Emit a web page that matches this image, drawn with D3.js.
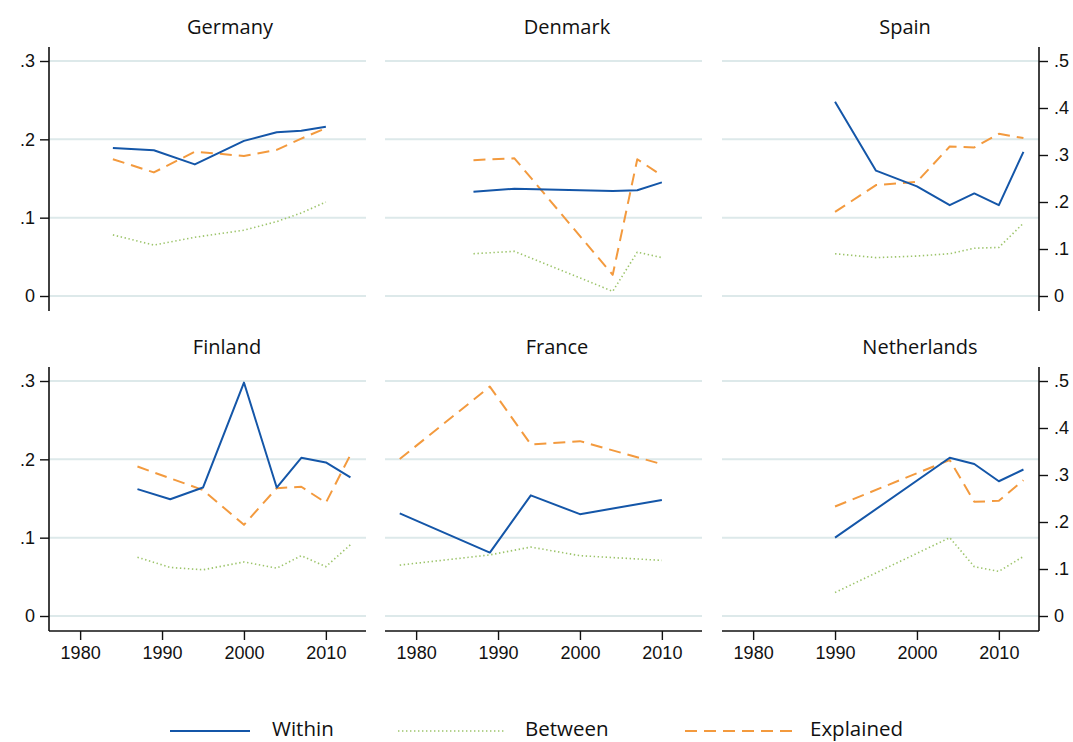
<!DOCTYPE html>
<html>
<head>
<meta charset="utf-8">
<script src="https://cdn.jsdelivr.net/npm/d3@7"></script>
<style>
  html, body { margin: 0; padding: 0; background: #fff; }
  svg { display: block; font-family: "Open Sans", "Noto Sans", sans-serif; }
</style>
</head>
<body>
<svg id="chart" width="1073" height="742"></svg>
<script>
// ---------- data ----------
const countries = ["Germany", "Denmark", "Spain", "Finland", "France", "Netherlands"];

const yearsGermany     = [1984, 1989, 1994, 2000, 2004, 2007, 2010];
const withinGermany    = [0.189, 0.186, 0.168, 0.198, 0.209, 0.211, 0.216];
const betweenGermany   = [0.078, 0.065, 0.075, 0.084, 0.095, 0.106, 0.120];
const explainedGermany = [0.291, 0.263, 0.307, 0.298, 0.311, 0.335, 0.357];

const yearsDenmark     = [1987, 1992, 2004, 2007, 2010];
const withinDenmark    = [0.133, 0.137, 0.134, 0.135, 0.145];
const betweenDenmark   = [0.054, 0.057, 0.006, 0.056, 0.049];
const explainedDenmark = [0.289, 0.293, 0.045, 0.291, 0.256];

const yearsSpain       = [1990, 1995, 2000, 2004, 2007, 2010, 2013];
const withinSpain      = [0.248, 0.160, 0.140, 0.116, 0.131, 0.116, 0.184];
const betweenSpain     = [0.054, 0.049, 0.051, 0.054, 0.061, 0.062, 0.093];
const explainedSpain   = [0.179, 0.236, 0.243, 0.318, 0.316, 0.345, 0.336];

const yearsFinland     = [1987, 1991, 1995, 2000, 2004, 2007, 2010, 2013];
const withinFinland    = [0.162, 0.149, 0.164, 0.298, 0.164, 0.202, 0.196, 0.177];
const betweenFinland   = [0.075, 0.062, 0.059, 0.069, 0.061, 0.077, 0.063, 0.091];
const explainedFinland = [0.318, 0.293, 0.268, 0.194, 0.272, 0.275, 0.241, 0.343];

const yearsFrance      = [1978, 1989, 1994, 2000, 2010];
const withinFrance     = [0.131, 0.081, 0.154, 0.130, 0.148];
const betweenFrance    = [0.065, 0.078, 0.088, 0.077, 0.071];
const explainedFrance  = [0.334, 0.488, 0.365, 0.372, 0.323];

const yearsNetherlands     = [1990, 2004, 2007, 2010, 2013];
const withinNetherlands    = [0.100, 0.202, 0.194, 0.172, 0.187];
const betweenNetherlands   = [0.030, 0.100, 0.063, 0.057, 0.076];
const explainedNetherlands = [0.233, 0.332, 0.243, 0.245, 0.289];

const leftTicks = [0, 0.1, 0.2, 0.3];
const leftTickLabels = ["0", ".1", ".2", ".3"];
const rightTicks = [0, 0.1, 0.2, 0.3, 0.4, 0.5];
const rightTickLabels = ["0", ".1", ".2", ".3", ".4", ".5"];
const xTicks = [1980, 1990, 2000, 2010];
const xTickLabels = ["1980", "1990", "2000", "2010"];

const seriesNames = ["Within", "Between", "Explained"];

const panelData = {
  Germany:     {years: yearsGermany, Within: withinGermany, Between: betweenGermany, Explained: explainedGermany},
  Denmark:     {years: yearsDenmark, Within: withinDenmark, Between: betweenDenmark, Explained: explainedDenmark},
  Spain:       {years: yearsSpain, Within: withinSpain, Between: betweenSpain, Explained: explainedSpain},
  Finland:     {years: yearsFinland, Within: withinFinland, Between: betweenFinland, Explained: explainedFinland},
  France:      {years: yearsFrance, Within: withinFrance, Between: betweenFrance, Explained: explainedFrance},
  Netherlands: {years: yearsNetherlands, Within: withinNetherlands, Between: betweenNetherlands, Explained: explainedNetherlands}
};

// ---------- layout & style ----------
const colX = [49, 385, 722];
const rowY = [47, 367];
const pw = 317, ph = 264;
const titleCx = [230, 567, 905, 227, 557, 920];

const style = {
  Within:    {color: "#1456a8", width: 2,   dash: null,      axis: "left"},
  Between:   {color: "#9cc46a", width: 1.6, dash: "1.4,2.6", axis: "left"},
  Explained: {color: "#f39a3e", width: 2,   dash: "12,7",    axis: "right"}
};
const gridColor = "#dde9ea";

const svg = d3.select("#chart");

const x = d3.scaleLinear().domain([1976.2, 2014.9]).range([0, pw]);
const yL = d3.scaleLinear().domain([0, 0.3]).range([249, 14]);
const yR = d3.scaleLinear().domain([0, 0.5]).range([249, 14]);

countries.forEach((c, i) => {
  const col = i % 3, row = Math.floor(i / 3);
  const g = svg.append("g").attr("transform", `translate(${colX[col]},${rowY[row]})`);

  // gridlines
  g.selectAll("line.grid").data(leftTicks).join("line")
    .attr("class", "grid")
    .attr("x1", 0).attr("x2", pw)
    .attr("y1", d => yL(d)).attr("y2", d => yL(d))
    .attr("stroke", gridColor).attr("stroke-width", 2);

  // title
  svg.append("text")
    .attr("x", titleCx[i]).attr("y", rowY[row] - 13)
    .attr("text-anchor", "middle")
    .attr("font-size", 20).attr("fill", "#111")
    .text(c);

  // left axis
  if (col === 0) {
    const ax = g.append("g").call(d3.axisLeft(yL).tickValues(leftTicks)
      .tickSize(9).tickPadding(5).tickFormat((d, k) => leftTickLabels[k]));
    ax.select(".domain").remove();
    ax.selectAll("text").attr("font-size", 18).attr("fill", "#111").attr("font-family", null);
    ax.selectAll("line").attr("stroke", "#111").attr("stroke-width", 1.4);
    g.append("line").attr("x1", 0).attr("x2", 0).attr("y1", 0).attr("y2", ph)
      .attr("stroke", "#111").attr("stroke-width", 1.6);
  }
  // right axis
  if (col === 2) {
    const ax = g.append("g").attr("transform", `translate(${pw},0)`)
      .call(d3.axisRight(yR).tickValues(rightTicks)
      .tickSize(9).tickPadding(6).tickFormat((d, k) => rightTickLabels[k]));
    ax.select(".domain").remove();
    ax.selectAll("text").attr("font-size", 18).attr("fill", "#111").attr("font-family", null);
    ax.selectAll("line").attr("stroke", "#111").attr("stroke-width", 1.4);
    g.append("line").attr("x1", pw).attr("x2", pw).attr("y1", 0).attr("y2", ph)
      .attr("stroke", "#111").attr("stroke-width", 1.6);
  }
  // bottom axis
  if (row === 1) {
    const ax = g.append("g").attr("transform", `translate(0,${ph})`)
      .call(d3.axisBottom(x).tickValues(xTicks)
      .tickSize(9).tickPadding(6).tickFormat((d, k) => xTickLabels[k]));
    ax.select(".domain").remove();
    ax.selectAll("text").attr("font-size", 18).attr("fill", "#111").attr("font-family", null);
    ax.selectAll("line").attr("stroke", "#111").attr("stroke-width", 1.4);
    g.append("line").attr("x1", 0).attr("x2", pw).attr("y1", ph).attr("y2", ph)
      .attr("stroke", "#111").attr("stroke-width", 1.6);
  }

  // series (draw order: Between, Explained, Within)
  const pd = panelData[c];
  ["Between", "Explained", "Within"].forEach(s => {
    const st = style[s];
    const ys = st.axis === "left" ? yL : yR;
    const pts = pd.years.map((yr, k) => [yr, pd[s][k]]);
    const line = d3.line().x(d => x(d[0])).y(d => ys(d[1]));
    g.append("path").datum(pts)
      .attr("d", line)
      .attr("fill", "none")
      .attr("stroke", st.color)
      .attr("stroke-width", st.width)
      .attr("stroke-dasharray", st.dash)
      .attr("stroke-linejoin", "round");
  });
});

// ---------- legend ----------
const legendLineX = [[170, 250], [398, 505], [685, 795]];
const legendTextX = [272, 525, 810];
const legendY = 731;
seriesNames.forEach((s, k) => {
  const st = style[s];
  svg.append("line")
    .attr("x1", legendLineX[k][0]).attr("x2", legendLineX[k][1])
    .attr("y1", legendY).attr("y2", legendY)
    .attr("stroke", st.color).attr("stroke-width", st.width)
    .attr("stroke-dasharray", st.dash);
  svg.append("text")
    .attr("x", legendTextX[k]).attr("y", 736)
    .attr("font-size", 20.5).attr("fill", "#111")
    .text(s);
});
</script>
</body>
</html>
